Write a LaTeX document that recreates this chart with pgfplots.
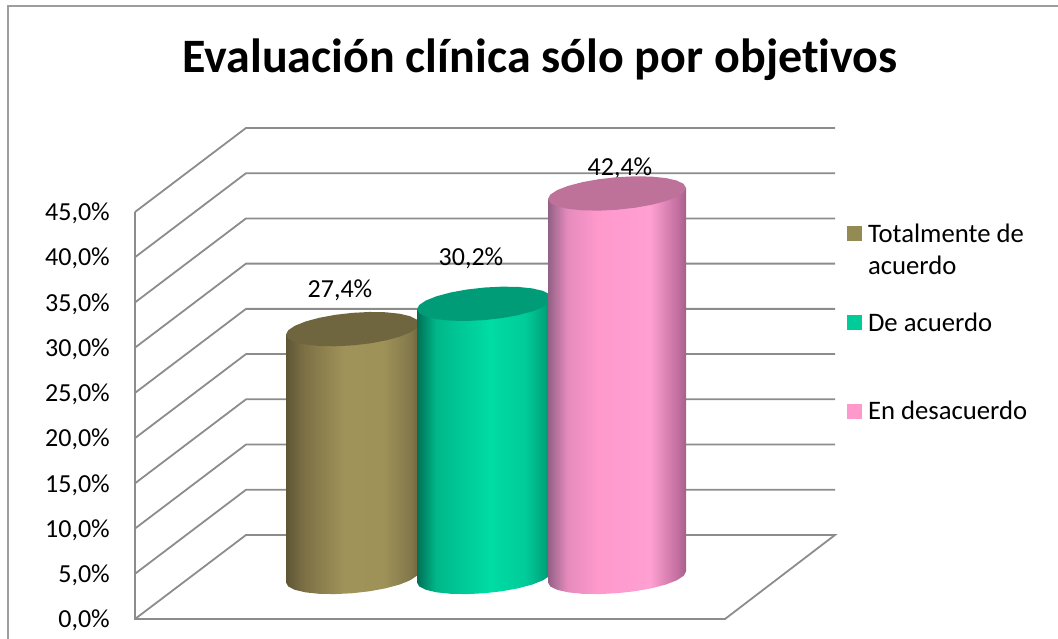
\documentclass[border=0pt]{standalone}
\usepackage{pgfplots}
\usepackage{pgfplotstable}
\usepackage{fontspec}
\setmainfont[Ligatures=NoCommon]{Carlito}
\pgfplotsset{compat=1.18}
\definecolor{gridc}{HTML}{8C8C8C}
\definecolor{topa}{HTML}{6F6640}
\definecolor{topb}{HTML}{009C78}
\definecolor{topc}{HTML}{BE7199}
\definecolor{lega}{HTML}{948A54}
\definecolor{legb}{HTML}{00CC99}
\definecolor{legc}{HTML}{FF99CC}
\definecolor{cA0}{HTML}{5E5535}\definecolor{cA1}{HTML}{7D7145}\definecolor{cA2}{HTML}{A09359}\definecolor{cA3}{HTML}{9E9258}\definecolor{cA4}{HTML}{82774A}\definecolor{cA5}{HTML}{6F6539}
\definecolor{cB0}{HTML}{007055}\definecolor{cB1}{HTML}{00B78A}\definecolor{cB2}{HTML}{00DCA4}\definecolor{cB3}{HTML}{00CC99}\definecolor{cB4}{HTML}{00A67E}\definecolor{cB5}{HTML}{008C6E}
\definecolor{cC0}{HTML}{936086}\definecolor{cC1}{HTML}{E58BBC}\definecolor{cC2}{HTML}{FF99CC}\definecolor{cC3}{HTML}{FF9FD2}\definecolor{cC4}{HTML}{C26F9F}\definecolor{cC5}{HTML}{A55F8A}
\pgfdeclarehorizontalshading{cyla}{100bp}{color(0bp)=(cA0);
 color(25bp)=(cA0); color(32bp)=(cA1); color(47bp)=(cA2); color(62bp)=(cA3); color(72bp)=(cA4); color(75bp)=(cA5); color(100bp)=(cA5)}
\pgfdeclarehorizontalshading{cylb}{100bp}{color(0bp)=(cB0);
 color(25bp)=(cB0); color(32bp)=(cB1); color(52bp)=(cB2); color(65bp)=(cB3); color(72bp)=(cB4); color(75bp)=(cB5); color(100bp)=(cB5)}
\pgfdeclarehorizontalshading{cylc}{100bp}{color(0bp)=(cC0);
 color(25bp)=(cC0); color(32bp)=(cC1); color(43bp)=(cC2); color(62bp)=(cC3); color(72bp)=(cC4); color(75bp)=(cC5); color(100bp)=(cC5)}
% outline of the top of a cylinder: c = horizontal position (unit), d = vertical offset in % units
\pgfplotstableread{
c d
1 .61
.966 1.055
.866 1.428
.707 1.704
.5 1.864
.259 1.897
0 1.80
-.259 1.581
-.5 1.254
-.707 .842
-.866 .372
-.966 -.123
-1 -.61
-.966 -1.055
-.866 -1.428
-.707 -1.704
-.5 -1.864
-.259 -1.897
0 -1.80
.259 -1.581
.5 -1.254
.707 -.842
.866 -.372
.966 .123
1 .61
}\ellipsetab
% body: lower rim, then up to the top (t = 1 at the top)
\pgfplotstableread{
c d t
-1 -.61 0
-.966 -1.055 0
-.866 -1.428 0
-.707 -1.704 0
-.5 -1.864 0
-.259 -1.897 0
0 -1.80 0
.259 -1.581 0
.5 -1.254 0
.707 -.842 0
.866 -.372 0
.966 .123 0
1 .61 0
1 .61 1
-1 -.61 1
-1 -.61 0
}\bodytab
\begin{document}
\begin{tikzpicture}
\path[use as bounding box] (0pt,0pt) rectangle (1058pt,638pt);
\begin{axis}[
  at={(135pt,19pt)}, anchor=south west,
  scale only axis, width=700pt, height=407pt,
  xmin=135, xmax=835, ymin=0, ymax=45,
  clip=false,
  axis line style={draw=none}, tick style={draw=none},
  xtick=\empty,
  ytick={0,5,10,15,20,25,30,35,40,45},
  yticklabels={{0,0\%},{5,0\%},{10,0\%},{15,0\%},{20,0\%},{25,0\%},{30,0\%},{35,0\%},{40,0\%},{45,0\%}},
  yticklabel style={font=\fontsize{26}{28}\selectfont, anchor=east, yshift=-1.5pt, xshift=-25pt, inner sep=0pt},
  unbounded coords=jump,
  legend style={at={(axis cs:847,43.9)}, anchor=north west, draw=none, fill=none,
     font=\fontsize{26.7}{32}\selectfont, row sep=64.5pt, inner sep=0pt, outer sep=0pt,
     legend cell align=left},
  legend image code/.code={\fill[#1,draw=none] (0pt,-7.5pt) rectangle (15pt,7.5pt);},
]
% outer frame
\addplot[forget plot, draw=gridc!85, line width=2pt] coordinates {(8,-2.2) (8,67.8) (1058,67.8)};
% walls and floor
\addplot[forget plot, draw=gridc, line width=1.8pt] coordinates {
 (135,45) (135,0) (725,0) (835,9.29) (246,9.29) (135,0) (nan,nan)
 (135,5) (246,14.29) (835,14.29) (nan,nan)
 (135,10) (246,19.29) (835,19.29) (nan,nan)
 (135,15) (246,24.29) (835,24.29) (nan,nan)
 (135,20) (246,29.29) (835,29.29) (nan,nan)
 (135,25) (246,34.29) (835,34.29) (nan,nan)
 (135,30) (246,39.29) (835,39.29) (nan,nan)
 (135,35) (246,44.29) (835,44.29) (nan,nan)
 (135,40) (246,49.29) (835,49.29) (nan,nan)
 (135,45) (246,54.29) (835,54.29)
};
% value labels
\node[font=\fontsize{26}{28}\selectfont] at (axis cs:340,36.3) {27,4\%};
\node[font=\fontsize{26}{28}\selectfont] at (axis cs:471,39.9) {30,2\%};
\node[font=\fontsize{26}{28}\selectfont] at (axis cs:620,49.8) {42,4\%};
% cylinder 1: 27.4
\addplot[forget plot, draw=none, shade, shading=cyla] table[x expr={352.5+66.5*\thisrow{c}}, y expr={4.65+27.4*\thisrow{t}+\thisrow{d}}] {\bodytab};
\addplot[forget plot, draw=none, fill=topa] table[x expr={352.5+66.5*\thisrow{c}}, y expr={4.65+27.4+\thisrow{d}}] {\ellipsetab};
% cylinder 2: 30.2
\addplot[forget plot, draw=none, shade, shading=cylb] table[x expr={484.5+67.5*\thisrow{c}}, y expr={4.65+30.2*\thisrow{t}+\thisrow{d}}] {\bodytab};
\addplot[forget plot, draw=none, fill=topb] table[x expr={484.5+67.5*\thisrow{c}}, y expr={4.65+30.2+\thisrow{d}}] {\ellipsetab};
% cylinder 3: 42.4
\addplot[forget plot, draw=none, shade, shading=cylc] table[x expr={617+69*\thisrow{c}}, y expr={4.65+42.4*\thisrow{t}+\thisrow{d}}] {\bodytab};
\addplot[forget plot, draw=none, fill=topc] table[x expr={617+69*\thisrow{c}}, y expr={4.65+42.4+\thisrow{d}}] {\ellipsetab};
% title
\node[font=\bfseries\fontsize{48}{56}\selectfont] at (axis cs:540,61.8) {Evaluación clínica sólo por objetivos};
% legend
\addlegendimage{fill=lega}
\addlegendentry{\parbox[t]{175pt}{\hspace*{4pt}Totalmente de\\[0pt]\hspace*{4pt}acuerdo}}
\addlegendimage{fill=legb}
\addlegendentry{\parbox[t]{175pt}{\hspace*{4pt}De acuerdo}}
\addlegendimage{fill=legc}
\addlegendentry{\parbox[t]{175pt}{\hspace*{4pt}En desacuerdo}}
\end{axis}
\end{tikzpicture}
\end{document}
